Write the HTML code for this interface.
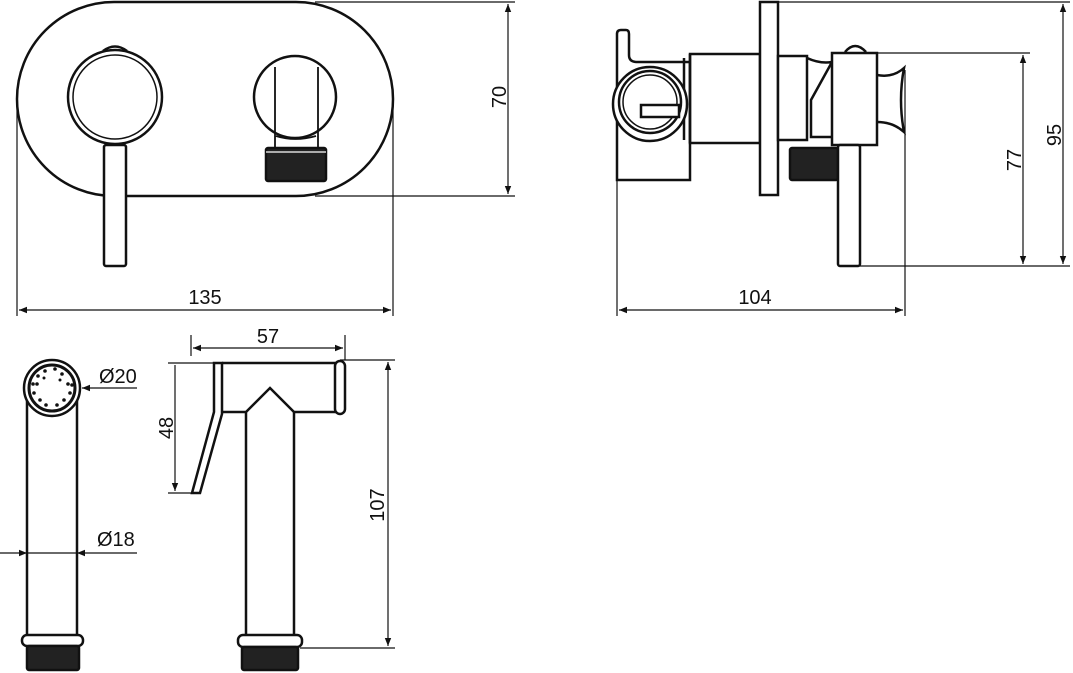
<!DOCTYPE html>
<html><head><meta charset="utf-8"><style>
html,body{margin:0;padding:0;background:#fff;width:1073px;height:673px;overflow:hidden}
svg{display:block}
text{font-family:"Liberation Sans",sans-serif;font-size:20px;fill:#111}
</style></head><body>
<svg width="1073" height="673" viewBox="0 0 1073 673" xmlns="http://www.w3.org/2000/svg">
<defs>
<marker id="a" viewBox="0 0 10 10" refX="10" refY="5" markerWidth="12" markerHeight="8" markerUnits="userSpaceOnUse" orient="auto-start-reverse"><path d="M0,1 L10,5 L0,9 z" fill="#111"/></marker>
</defs>
<g fill="none" stroke="#111" stroke-width="2.5">
<rect x="17" y="2" width="376" height="194" rx="97" ry="97"/>
<circle cx="115" cy="97" r="47"/>
<circle cx="115" cy="97" r="42" stroke-width="1.5"/>
<path d="M103,51 Q115,42 127,51"/>
<rect x="104" y="145" width="22" height="121" rx="2" fill="#fff"/>
<circle cx="295" cy="97" r="41"/>
<path d="M275,67 V148 M318,67 V148 M276,136 Q295,142 316,136" stroke-width="1.8"/>
<rect x="266" y="148" width="60" height="33" rx="2" fill="#222"/>
<line x1="266" y1="152" x2="326" y2="152" stroke="#fff" stroke-width="1.2"/>
</g>
<g stroke="#111" stroke-width="1.2" fill="none">
<line x1="315" y1="2" x2="515" y2="2"/>
<line x1="315" y1="196" x2="515" y2="196"/>
<line x1="508" y1="4" x2="508" y2="194" marker-start="url(#a)" marker-end="url(#a)"/>
<line x1="17" y1="100" x2="17" y2="316"/>
<line x1="393" y1="100" x2="393" y2="316"/>
<line x1="19" y1="310" x2="391" y2="310" marker-start="url(#a)" marker-end="url(#a)"/>
</g>
<text x="205" y="304" text-anchor="middle">135</text>
<text transform="translate(506,97) rotate(-90)" text-anchor="middle">70</text>

<g fill="none" stroke="#111" stroke-width="2.5">
<path d="M617,180 V34 Q617,30 621,30 H626 Q629,30 629,34 V55 Q629,62 637,62 H690 V180 Z" fill="#fff"/>
<rect x="690" y="54" width="70" height="89" fill="#fff"/>
<path d="M684,58 V140 M690,54 V143"/>
<circle cx="650" cy="104" r="37" fill="#fff"/>
<circle cx="650" cy="102" r="31"/>
<circle cx="650" cy="102" r="27" stroke-width="1.5"/>
<rect x="641" y="105" width="38" height="12" fill="#fff"/>
<rect x="760" y="2" width="18" height="193" fill="#fff"/>
<rect x="778" y="56" width="29" height="84" fill="#fff"/>
<path d="M807,58 Q820,64 832,62 L811,100 V137 H832"/>
<rect x="832" y="53" width="45" height="92" fill="#fff"/>
<path d="M845,52 Q855,40 866,52"/>
<path d="M877,75 Q893,78 904,68 Q898,100 904,132 Q893,122 877,122"/>
<rect x="790" y="148" width="48" height="32" rx="2" fill="#222"/>
<rect x="838" y="145" width="22" height="121" rx="2" fill="#fff"/>
</g>
<g stroke="#111" stroke-width="1.2" fill="none">
<line x1="905" y1="70" x2="905" y2="316"/>
<line x1="617" y1="180" x2="617" y2="316"/>
<line x1="619" y1="310" x2="903" y2="310" marker-start="url(#a)" marker-end="url(#a)"/>
<line x1="778" y1="2" x2="1070" y2="2"/>
<line x1="877" y1="53" x2="1030" y2="53"/>
<line x1="860" y1="266" x2="1070" y2="266"/>
<line x1="1023" y1="55" x2="1023" y2="264" marker-start="url(#a)" marker-end="url(#a)"/>
<line x1="1063" y1="4" x2="1063" y2="264" marker-start="url(#a)" marker-end="url(#a)"/>
</g>
<text x="755" y="304" text-anchor="middle">104</text>
<text transform="translate(1021,160) rotate(-90)" text-anchor="middle">77</text>
<text transform="translate(1061,135) rotate(-90)" text-anchor="middle">95</text>

<g fill="none" stroke="#111" stroke-width="2.5">
<path d="M27,395 V636 M77,395 V636"/>
<circle cx="52" cy="388" r="28" fill="#fff"/>
<circle cx="52" cy="388" r="23" stroke-width="3"/>
<rect x="22" y="635" width="61" height="11" rx="5" fill="#fff"/>
<rect x="27" y="646" width="52" height="24" rx="2" fill="#222"/>
</g>
<g fill="#111">
<circle cx="45" cy="371" r="1.8"/><circle cx="55" cy="369" r="1.8"/><circle cx="62" cy="374" r="1.8"/><circle cx="38" cy="376" r="1.8"/>
<circle cx="33" cy="384" r="1.8"/><circle cx="37" cy="384" r="1.8"/><circle cx="68" cy="384" r="1.8"/><circle cx="72" cy="385" r="1.8"/>
<circle cx="34" cy="393" r="1.8"/><circle cx="70" cy="393" r="1.8"/><circle cx="40" cy="400" r="1.8"/><circle cx="64" cy="400" r="1.8"/>
<circle cx="46" cy="405" r="1.8"/><circle cx="57" cy="405" r="1.8"/><circle cx="44" cy="378" r="1.5"/><circle cx="60" cy="380" r="1.5"/>
</g>
<g stroke="#111" stroke-width="1.2" fill="none">
<line x1="137" y1="388" x2="82" y2="388" marker-end="url(#a)"/>
<line x1="0" y1="553" x2="27" y2="553" marker-end="url(#a)"/>
<line x1="137" y1="553" x2="77" y2="553" marker-end="url(#a)"/>
<line x1="27" y1="553" x2="77" y2="553"/>
</g>
<text x="99" y="383">Ø20</text>
<text x="97" y="546">Ø18</text>

<g fill="none" stroke="#111" stroke-width="2.5">
<path d="M246,412 V636 M294,412 V636"/>
<path d="M222,363 H338 M222,412 H246 L270,388 L294,412 H338"/>
<path d="M214,363 V412 L192,493 H200 L222,414 V363 Z" fill="#fff"/>
<rect x="335" y="361" width="10" height="53" rx="5" fill="#fff"/>
<rect x="238" y="635" width="64" height="12" rx="5" fill="#fff"/>
<rect x="242" y="647" width="56" height="23" rx="2" fill="#222"/>
</g>
<g stroke="#111" stroke-width="1.2" fill="none">
<line x1="191" y1="335" x2="191" y2="356"/>
<line x1="345" y1="335" x2="345" y2="360"/>
<line x1="193" y1="348" x2="343" y2="348" marker-start="url(#a)" marker-end="url(#a)"/>
<line x1="168" y1="363" x2="213" y2="363"/>
<line x1="168" y1="493" x2="195" y2="493"/>
<line x1="175" y1="365" x2="175" y2="491" marker-end="url(#a)"/>
<line x1="340" y1="360" x2="395" y2="360"/>
<line x1="300" y1="648" x2="395" y2="648"/>
<line x1="388" y1="362" x2="388" y2="646" marker-start="url(#a)" marker-end="url(#a)"/>
</g>
<text x="268" y="343" text-anchor="middle">57</text>
<text transform="translate(173,428) rotate(-90)" text-anchor="middle">48</text>
<text transform="translate(384,505) rotate(-90)" text-anchor="middle">107</text>
</svg>
</body></html>
